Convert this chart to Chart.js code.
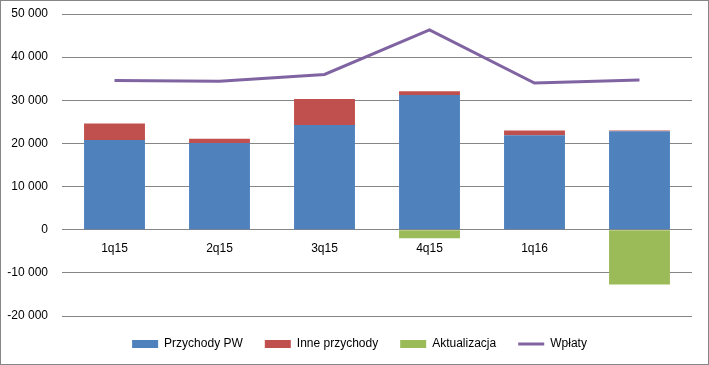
<!DOCTYPE html>
<html>
<head>
<meta charset="utf-8">
<script src="https://cdn.jsdelivr.net/npm/chart.js@4/dist/chart.umd.min.js"></script>
<style>
  html, body { margin: 0; padding: 0; background: #fff; }
  #wrap { width: 707px; height: 363px; border: 1px solid #868686; }
  canvas { display: block; }
</style>
</head>
<body>
<div id="wrap"><canvas id="c" width="707" height="363"></canvas></div>
<script>
const categories = ['1q15', '2q15', '3q15', '4q15', '1q16', '2q16'];
const przychodyPW = [20800, 20100, 24300, 31200, 21900, 22800];
const innePrzychody = [3800, 1000, 6000, 900, 1100, 200];
const aktualizacja = [0, 0, 0, -2000, 0, -12700];
const wplaty = [34600, 34400, 36000, 46300, 34000, 34700];
const yTicks = { min: -20000, max: 50000, step: 10000 };

const FONT = "'Liberation Sans', Arial, sans-serif";
const GRID = '#868686';

function fmt(v) {
  const s = Math.abs(v).toString().replace(/\B(?=(\d{3})+(?!\d))/g, ' ');
  return (v < 0 ? '-' : '') + s;
}

const legendShift = {
  id: 'legendShift',
  afterLayout(chart) {
    const l = chart.legend;
    if (l) { l.left += 13; l.right += 13; }
  }
};

new Chart(document.getElementById('c'), {
  data: {
    labels: categories,
    datasets: [
      { type: 'bar', label: 'Przychody PW', data: przychodyPW, backgroundColor: '#4F81BD', borderColor: '#4F81BD', borderWidth: 0, stack: 's' },
      { type: 'bar', label: 'Inne przychody', data: innePrzychody, backgroundColor: '#C0504D', borderColor: '#C0504D', borderWidth: 0, stack: 's' },
      { type: 'bar', label: 'Aktualizacja', data: aktualizacja, backgroundColor: '#9BBB59', borderColor: '#9BBB59', borderWidth: 0, stack: 's' },
      { type: 'line', label: 'Wpłaty', data: wplaty, borderColor: '#8064A2', backgroundColor: '#8064A2', borderWidth: 3, pointRadius: 0, tension: 0, stack: 'l' }
    ]
  },
  plugins: [legendShift],
  options: {
    responsive: false,
    animation: false,
    layout: { padding: { top: 13, right: 16, bottom: 4, left: 0 } },
    datasets: { bar: { barPercentage: 1, categoryPercentage: 0.58 } },
    scales: {
      x: {
        position: { y: 0 },
        stacked: true,
        grid: { display: false, drawTicks: false },
        border: { display: false },
        ticks: { color: '#000', font: { family: FONT, size: 12 }, padding: 12, maxRotation: 0 }
      },
      y: {
        stacked: true,
        min: yTicks.min, max: yTicks.max,
        grid: { color: GRID, lineWidth: 1, drawTicks: true, tickLength: 14, tickColor: 'rgba(0,0,0,0)' },
        border: { display: false },
        ticks: { stepSize: yTicks.step, color: '#000', font: { family: FONT, size: 12 }, padding: 0, callback: v => fmt(v) },
        afterFit: s => { s.width = 61; }
      }
    },
    plugins: {
      tooltip: { enabled: false },
      legend: {
        position: 'bottom',
        labels: {
          color: '#000',
          font: { family: FONT, size: 12 },
          usePointStyle: true,
          pointStyleWidth: 26,
          boxWidth: 26,
          boxHeight: 8,
          padding: 22,
          generateLabels: chart => chart.data.datasets.map((ds, i) => ({
            text: ds.label,
            fillStyle: ds.backgroundColor,
            strokeStyle: ds.borderColor,
            lineWidth: ds.type === 'line' ? 3 : 0,
            pointStyle: ds.type === 'line' ? 'line' : 'rect',
            hidden: false,
            datasetIndex: i,
            fontColor: '#000'
          }))
        }
      }
    }
  }
});
</script>
</body>
</html>
